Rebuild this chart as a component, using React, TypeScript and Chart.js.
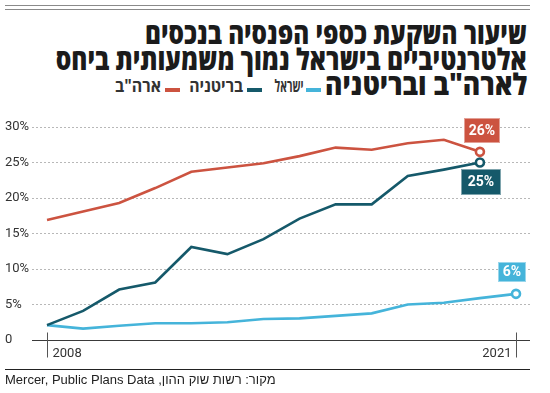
import React, { useEffect, useLayoutEffect, useRef } from 'react';
import { Chart, registerables } from 'chart.js';

Chart.register(...registerables);

// ---- data ----
const years = [2008, 2009, 2010, 2011, 2012, 2013, 2014, 2015, 2016, 2017, 2018, 2019, 2020, 2021];
const usa = [16.9, 18.1, 19.3, 21.4, 23.7, 24.3, 24.9, 25.9, 27.1, 26.8, 27.7, 28.2, 26.5];
const britain = [2.1, 4.1, 7.1, 8.1, 13.1, 12.1, 14.2, 17.1, 19.1, 19.1, 23.1, 24.0, 25.0];
const israel = [2.1, 1.6, 2.0, 2.35, 2.35, 2.5, 2.95, 3.05, 3.4, 3.75, 5.0, 5.25, 5.9, 6.5];
const seriesNames = ['ארה"ב', 'בריטניה', 'ישראל'];
const seriesColors = ['#cc5340', '#15596a', '#45b4da'];
const endLabels = ['26%', '25%', '6%'];
const xTickYears = [2008, 2021];
const xTickLabels = ['2008', '2021'];
const titleLines = ['שיעור השקעת כספי הפנסיה בנכסים', 'אלטרנטיביים בישראל נמוך משמעותית ביחס', 'לארה"ב ובריטניה'];
const sourceText = 'מקור: רשות שוק ההון, Mercer, Public Plans Data';

// label box placement relative to last point (style)
const boxStyle = [
  { dx: 2, dy: -21, w: 36, h: 25 },
  { dx: 1, dy: 19, w: 40, h: 26 },
  { dx: -4, dy: -22, w: 28, h: 20 },
];

function FitText(props: { text: string; right: number; top: number; width: number; style: React.CSSProperties }) {
  const ref = useRef<HTMLDivElement>(null);
  useLayoutEffect(() => {
    const el = ref.current;
    if (!el) return;
    el.style.transform = 'none';
    const w = el.getBoundingClientRect().width;
    if (w > 0) el.style.transform = `scaleX(${props.width / w})`;
  }, [props.text, props.width]);
  return (
    <div
      ref={ref}
      dir="rtl"
      style={{
        position: 'absolute',
        right: props.right,
        top: props.top,
        whiteSpace: 'nowrap',
        transformOrigin: 'right center',
        ...props.style,
      }}
    >
      {props.text}
    </div>
  );
}

const decor = {
  id: 'decor',
  beforeDatasetsDraw(chart: any) {
    const { ctx, chartArea, scales } = chart;
    const x = scales.x;
    const y = scales.y;
    const y0 = Math.round(y.getPixelForValue(0)) + 0.5;
    ctx.save();
    ctx.strokeStyle = '#3a3a3a';
    ctx.lineWidth = 1;
    ctx.beginPath();
    ctx.moveTo(chartArea.left, y0);
    ctx.lineTo(chartArea.right, y0);
    ctx.stroke();
    ctx.strokeStyle = '#555';
    ctx.font = '13px Roboto';
    ctx.fillStyle = '#333';
    ctx.textBaseline = 'middle';
    xTickYears.forEach((yr, i) => {
      const px = Math.round(x.getPixelForValue(yr)) + 0.5;
      ctx.beginPath();
      ctx.moveTo(px, y0 - 8);
      ctx.lineTo(px, y0 + 17);
      ctx.stroke();
      if (i === 0) {
        ctx.textAlign = 'left';
        ctx.fillText(xTickLabels[i], px + 5, y0 + 13);
      } else {
        ctx.textAlign = 'right';
        ctx.fillText(xTickLabels[i], px - 5, y0 + 13);
      }
    });
    ctx.restore();
  },
  afterDatasetsDraw(chart: any) {
    const { ctx } = chart;
    ctx.save();
    chart.data.datasets.forEach((ds: any, i: number) => {
      const meta = chart.getDatasetMeta(i);
      const pt = meta.data[meta.data.length - 1];
      const b = boxStyle[i];
      const cx = pt.x + b.dx;
      const cy = pt.y + b.dy;
      ctx.fillStyle = seriesColors[i];
      ctx.fillRect(Math.round(cx - b.w / 2), Math.round(cy - b.h / 2), b.w, b.h);
      ctx.strokeStyle = 'rgba(255,255,255,0.45)';
      ctx.lineWidth = 1;
      ctx.strokeRect(Math.round(cx - b.w / 2) + 0.5, Math.round(cy - b.h / 2) + 0.5, b.w - 1, b.h - 1);
      ctx.fillStyle = '#fff';
      ctx.font = 'bold 14px Roboto';
      ctx.textAlign = 'center';
      ctx.textBaseline = 'middle';
      ctx.fillText(endLabels[i], cx, cy + 1);
    });
    ctx.restore();
  },
};

export default function App() {
  const canvasRef = useRef<HTMLCanvasElement>(null);

  useEffect(() => {
    const canvas = canvasRef.current;
    if (!canvas) return;
    const mk = (arr: number[], i: number) => ({
      label: seriesNames[i],
      data: arr.map((v, k) => ({ x: years[k], y: v })),
      borderColor: seriesColors[i],
      borderWidth: 2.6,
      tension: 0,
      pointRadius: (c: any) => (c.dataIndex === arr.length - 1 ? 4 : 0),
      pointHoverRadius: 0,
      pointBackgroundColor: '#fff',
      pointBorderColor: seriesColors[i],
      pointBorderWidth: 2.6,
      clip: false as any,
    });
    const chart = new Chart(canvas, {
      type: 'line',
      data: {
        datasets: [mk(usa, 0), mk(britain, 1), mk(israel, 2)],
      },
      options: {
        responsive: false,
        animation: false,
        devicePixelRatio: 1,
        events: [],
        layout: { padding: { top: 17, bottom: 35, left: 5, right: 20 } },
        plugins: { legend: { display: false }, tooltip: { enabled: false } },
        scales: {
          x: {
            type: 'linear',
            display: false,
            min: 2007.584,
            max: 2021.388,
          },
          y: {
            min: 0,
            max: 30,
            afterFit: (s: any) => {
              s.width = 27;
            },
            afterBuildTicks: (s: any) => {
              s.ticks = [0, 5, 10, 15, 20, 25, 30].map((v) => ({ value: v }));
            },
            ticks: {
              crossAlign: 'far',
              padding: 0,
              color: '#333',
              font: { family: 'Roboto', size: 13 },
              callback: (v: any) => (v === 0 ? '0' : v + '%'),
            },
            grid: {
              drawTicks: false,
              color: (c: any) => (c.tick && c.tick.value === 0 ? 'rgba(0,0,0,0)' : '#b8b8b8'),
              lineWidth: 1,
            },
            border: { display: false, dash: [2, 2] },
          },
        },
      },
      plugins: [decor],
    });
    return () => chart.destroy();
  }, []);

  const titleStyle: React.CSSProperties = {
    fontFamily: '"Open Sans", "DejaVu Sans", sans-serif',
    fontWeight: 800,
    fontSize: 30,
    lineHeight: '30px',
    color: '#1b1b1b',
  };
  const legStyle: React.CSSProperties = {
    fontFamily: '"Open Sans", "DejaVu Sans", sans-serif',
    fontWeight: 700,
    fontSize: 17,
    lineHeight: '17px',
    color: '#333',
  };

  return (
    <div
      style={{
        position: 'absolute',
        left: 0,
        top: 0,
        width: 550,
        height: 393,
        background: '#fff',
        overflow: 'hidden',
      }}
    >
      <div style={{ position: 'absolute', left: 5, top: 5, width: 525, height: 0, borderTop: '1.5px solid #8a8a8a' }} />
      <div style={{ position: 'absolute', left: 5, top: 8.5, width: 525, height: 0, borderTop: '1.5px solid #8a8a8a' }} />

      <FitText text={titleLines[0]} right={23} top={18} width={382} style={titleStyle} />
      <FitText text={titleLines[1]} right={23} top={44} width={471} style={titleStyle} />
      <FitText text={titleLines[2]} right={23} top={69} width={202} style={titleStyle} />

      <div style={{ position: 'absolute', left: 306, top: 88, width: 15, height: 4, background: seriesColors[2] }} />
      <FitText text={seriesNames[2]} right={550 - 304} top={77} width={29} style={legStyle} />
      <div style={{ position: 'absolute', left: 247, top: 88, width: 15, height: 4, background: seriesColors[1] }} />
      <FitText text={seriesNames[1]} right={550 - 243} top={77} width={54} style={legStyle} />
      <div style={{ position: 'absolute', left: 165, top: 88, width: 15, height: 4, background: seriesColors[0] }} />
      <FitText text={seriesNames[0]} right={550 - 161} top={77} width={46} style={legStyle} />

      <canvas
        ref={canvasRef}
        width={550}
        height={265}
        style={{ position: 'absolute', left: 0, top: 110, width: 550, height: 265 }}
      />

      <div style={{ position: 'absolute', left: 5, top: 369, width: 525, height: 0, borderTop: '1px solid #222' }} />
      <div
        dir="rtl"
        style={{
          position: 'absolute',
          left: 5,
          top: 372,
          whiteSpace: 'nowrap',
          fontFamily: '"Liberation Sans", Arial, sans-serif',
          fontSize: 13,
          lineHeight: '16px',
          color: '#222',
        }}
      >
        {sourceText}
      </div>
    </div>
  );
}
